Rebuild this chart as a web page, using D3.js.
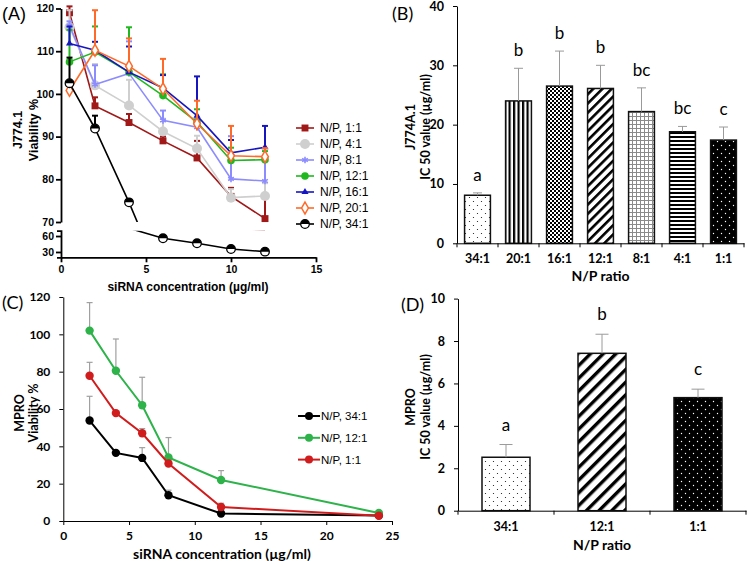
<!DOCTYPE html>
<html>
<head>
<meta charset="utf-8">
<script src="https://cdn.jsdelivr.net/npm/d3@7"></script>
<style>
body { margin: 0; background: #fff; }
svg { display: block; }
</style>
</head>
<body>
<div id="fig"></div>
<script>
// ---- panel A : J774.1 viability vs siRNA concentration ----
var concA = [0.5, 2, 4, 6, 8, 10, 12];
var np1_1A  = [119, 97.2, 93.3, 89, 85, 76, 70.8];
var np4_1A  = [115.6, 102, 97.3, 91.2, 87.2, 75.7, 76.1];
var np8_1A  = [116, 102.2, 104.8, 93.8, 92.2, 80.1, 79.6];
var np12_1A = [107.5, 109.8, 105.1, 99.6, 93.4, 84.4, 84.6];
var np16_1A = [111.8, 110.2, 105.1, 101.4, 94.9, 86.2, 87.5];
var np20_1A = [100.8, 110.2, 106.5, 101.2, 93, 85.5, 85.3];
var np34_1A = [102.5, 91.9, 74.6, 55.7, 46.3, 35.6, 30.6];
var err1_1A  = [1.5, 2, 2, 1, 4, 2, 5];
var err4_1A  = [4, 5, 6, 3, 3, 2, 3];
var err8_1A  = [1, 4.5, 7.5, 2.3, 2, 10, 5];
var err12_1A = [7.5, 6, 10.5, 5, 3, 3, 2];
var err16_1A = [4, 2, 6, 3, 9.2, 3, 5];
var err20_1A = [0, 9.4, 6.5, 7, 5.4, 7, 2];
var err34_1A = [6, 3, 0, 0, 0, 0, 0];
var namesA = ["N/P, 1:1", "N/P, 4:1", "N/P, 8:1", "N/P, 12:1", "N/P, 16:1", "N/P, 20:1", "N/P, 34:1"];
var ticksAUp = [70, 80, 90, 100, 110, 120];
var ticksALow = [30, 60];
var ticksAX = [0, 5, 10, 15];

// ---- panel B : J774A.1 IC50 ----
var ratiosB = ["34:1", "20:1", "16:1", "12:1", "8:1", "4:1", "1:1"];
var ic50B = [8.1, 24, 26.5, 26.1, 22.2, 18.8, 17.4];
var errB = [0.4, 5.5, 5.9, 3.9, 4, 0.9, 2.2];
var lettersB = ["a", "b", "b", "b", "bc", "bc", "c"];
var ticksB = [0, 10, 20, 30, 40];

// ---- panel C : MPRO viability ----
var concC = [2, 4, 6, 8, 12, 24];
var np34_1C = [53.8, 36.5, 33.8, 13.8, 4, 3];
var np12_1C = [102, 80.5, 62, 34, 22, 4.3];
var np1_1C  = [77.8, 57.8, 47, 30.8, 7.5, 2.8];
var err34_1C = [13, 0, 5.5, 2.7, 0, 0];
var err12_1C = [15, 17, 15, 10.7, 5, 0];
var err1_1C  = [7.2, 0, 2.5, 0, 2, 0];
var namesC = ["N/P, 34:1", "N/P, 12:1", "N/P, 1:1"];
var ticksCX = [0, 5, 10, 15, 20, 25];
var ticksCY = [0, 20, 40, 60, 80, 100, 120];

// ---- panel D : MPRO IC50 ----
var ratiosD = ["34:1", "12:1", "1:1"];
var ic50D = [2.52, 7.42, 5.33];
var errD = [0.6, 0.9, 0.4];
var lettersD = ["a", "b", "c"];
var ticksD = [0, 2, 4, 6, 8, 10];

var svg = d3.select("#fig")
    .append("svg")
    .attr("width", 747)
    .attr("height", 561);

var defs = svg.append("defs");

// fill patterns for the bars
function pattern(id, w, h, draw, transform) {
    var p = defs.append("pattern")
        .attr("id", id)
        .attr("patternUnits", "userSpaceOnUse")
        .attr("width", w)
        .attr("height", h);
    if (transform) p.attr("patternTransform", transform);
    draw(p);
}
pattern("dotsW", 8, 8, function(p) {
    p.append("rect").attr("width", 8).attr("height", 8).attr("fill", "#fff");
    p.append("circle").attr("cx", 1.5).attr("cy", 1.5).attr("r", 0.6).attr("fill", "#111");
    p.append("circle").attr("cx", 5.5).attr("cy", 5.5).attr("r", 0.6).attr("fill", "#111");
});
pattern("vStripes", 4.5, 4, function(p) {
    p.append("rect").attr("width", 4.5).attr("height", 4).attr("fill", "#fff");
    p.append("rect").attr("width", 2.2).attr("height", 4).attr("fill", "#000");
});
pattern("checker", 4, 4, function(p) {
    p.append("rect").attr("width", 4).attr("height", 4).attr("fill", "#fff");
    p.append("rect").attr("width", 2).attr("height", 2).attr("fill", "#000");
    p.append("rect").attr("x", 2).attr("y", 2).attr("width", 2).attr("height", 2).attr("fill", "#000");
});
pattern("diagB", 6.5, 6.5, function(p) {
    p.append("rect").attr("width", 6.5).attr("height", 6.5).attr("fill", "#fff");
    p.append("rect").attr("width", 2.6).attr("height", 6.5).attr("fill", "#000");
}, "rotate(45)");
pattern("diagD", 9, 9, function(p) {
    p.append("rect").attr("width", 9).attr("height", 9).attr("fill", "#fff");
    p.append("rect").attr("width", 3.4).attr("height", 9).attr("fill", "#000");
}, "rotate(45)");
pattern("gridG", 4, 4, function(p) {
    p.append("rect").attr("width", 4).attr("height", 4).attr("fill", "#fff");
    p.append("path").attr("d", "M0,0.5H4M0.5,0V4").attr("stroke", "#8a8a8a").attr("stroke-width", 1);
});
pattern("hStripes", 4, 4, function(p) {
    p.append("rect").attr("width", 4).attr("height", 4).attr("fill", "#fff");
    p.append("rect").attr("width", 4).attr("height", 2).attr("fill", "#000");
});
pattern("dotsB", 8, 8, function(p) {
    p.append("rect").attr("width", 8).attr("height", 8).attr("fill", "#000");
    p.append("circle").attr("cx", 1.5).attr("cy", 1.5).attr("r", 0.7).attr("fill", "#fff");
    p.append("circle").attr("cx", 5.5).attr("cy", 5.5).attr("r", 0.7).attr("fill", "#fff");
});

var fillsB = ["url(#dotsW)", "url(#vStripes)", "url(#checker)", "url(#diagB)", "url(#gridG)", "url(#hStripes)", "url(#dotsB)"];
var fillsD = ["url(#dotsW)", "url(#diagD)", "url(#dotsB)"];

function panelLabel(txt, x, y, font) {
    svg.append("text").attr("x", x).attr("y", y)
        .attr("font-family", font).attr("font-size", 18)
        .text(txt);
}

function yLabel(lines, xs, cy, font, size) {
    lines.forEach(function(t, i) {
        svg.append("text")
            .attr("transform", "translate(" + xs[i] + "," + cy + ") rotate(-90)")
            .attr("text-anchor", "middle")
            .attr("dominant-baseline", "central")
            .attr("font-family", font)
            .attr("font-weight", "bold")
            .attr("font-size", size)
            .text(t);
    });
}

// =================== panel A ===================
var xA = d3.scaleLinear().domain([0, 15]).range([61, 316]);
var yAUp = d3.scaleLinear().domain([70, 120]).range([222, 8.5]);
var yALow = d3.scaleLinear().domain([20, 70]).range([257.3, 230.7]);
function yA(v) { return v >= 70 ? yAUp(v) : yALow(v); }

defs.append("clipPath").attr("id", "clipUp")
    .append("rect").attr("x", 0).attr("y", 0).attr("width", 340).attr("height", 222);
defs.append("clipPath").attr("id", "clipLow")
    .append("rect").attr("x", 0).attr("y", 230.7).attr("width", 340).attr("height", 26.6);

var seriesA = [
    {name: namesA[0], v: np1_1A,  e: err1_1A,  color: "#a01818", shape: "square"},
    {name: namesA[1], v: np4_1A,  e: err4_1A,  color: "#cfcfcf", shape: "circleBig"},
    {name: namesA[2], v: np8_1A,  e: err8_1A,  color: "#8c8cff", shape: "cross"},
    {name: namesA[3], v: np12_1A, e: err12_1A, color: "#1fb81f", shape: "circle"},
    {name: namesA[4], v: np16_1A, e: err16_1A, color: "#1616c0", shape: "triangle"},
    {name: namesA[5], v: np20_1A, e: err20_1A, color: "#ff6a28", shape: "diamond"},
    {name: namesA[6], v: np34_1A, e: err34_1A, color: "#000000", shape: "half"}
];

function drawMarker(g, shape, color, x, y) {
    if (shape === "square") {
        g.append("path").attr("d", d3.symbol(d3.symbolSquare, 48)())
            .attr("transform", "translate(" + x + "," + y + ")").attr("fill", color);
    } else if (shape === "circleBig") {
        g.append("circle").attr("cx", x).attr("cy", y).attr("r", 5).attr("fill", color);
    } else if (shape === "circle") {
        g.append("circle").attr("cx", x).attr("cy", y).attr("r", 3.8).attr("fill", color);
    } else if (shape === "cross") {
        g.append("path").attr("d", d3.symbol(d3.symbolAsterisk, 30)())
            .attr("transform", "translate(" + x + "," + y + ")")
            .attr("fill", "none").attr("stroke", color).attr("stroke-width", 1.6);
    } else if (shape === "triangle") {
        g.append("path").attr("d", d3.symbol(d3.symbolTriangle, 22)())
            .attr("transform", "translate(" + x + "," + y + ")").attr("fill", color);
    } else if (shape === "diamond") {
        g.append("path").attr("d", d3.symbol(d3.symbolDiamond, 40)())
            .attr("transform", "translate(" + x + "," + y + ")")
            .attr("fill", "#fff").attr("stroke", color).attr("stroke-width", 1.5);
    } else if (shape === "half") {
        g.append("circle").attr("cx", x).attr("cy", y).attr("r", 4.3)
            .attr("fill", "#fff").attr("stroke", color).attr("stroke-width", 1.3);
        g.append("path")
            .attr("d", d3.arc()({innerRadius: 0, outerRadius: 4.3, startAngle: -Math.PI / 2, endAngle: Math.PI / 2}))
            .attr("transform", "translate(" + x + "," + y + ")").attr("fill", color);
    }
}

var plotA = svg.append("g");
seriesA.forEach(function(s) {
    var pts = concA.map(function(c, i) { return {x: c, v: s.v[i], e: s.e[i]}; });
    [["clipUp", yAUp], ["clipLow", yALow]].forEach(function(seg) {
        plotA.append("path")
            .attr("clip-path", "url(#" + seg[0] + ")")
            .attr("d", d3.line().x(function(d) { return xA(d.x); }).y(function(d) { return seg[1](d.v); })(pts))
            .attr("fill", "none").attr("stroke", s.color).attr("stroke-width", 1.6);
    });
    var eg = plotA.append("g").attr("stroke", s.color).attr("stroke-width", 2);
    pts.forEach(function(d) {
        if (d.e <= 0) return;
        var x = xA(d.x), y0 = yA(d.v), y1 = yA(d.v + d.e);
        eg.append("line").attr("x1", x).attr("x2", x).attr("y1", y0).attr("y2", y1);
        eg.append("line").attr("x1", x - 3).attr("x2", x + 3).attr("y1", y1).attr("y2", y1);
    });
    pts.forEach(function(d) { drawMarker(plotA, s.shape, s.color, xA(d.x), yA(d.v)); });
});

function styleAxisA(g) {
    g.selectAll("path, line").attr("stroke", "#000").attr("stroke-width", 1.8);
    g.selectAll("text").attr("font-family", "Liberation Sans, Arial").attr("font-weight", "bold").attr("font-size", 10.5).attr("fill", "#000");
}
svg.append("g").attr("transform", "translate(61,0)")
    .call(d3.axisLeft(yAUp).tickValues(ticksAUp).tickSize(5).tickSizeOuter(0).tickPadding(2))
    .call(styleAxisA);
svg.append("g").attr("transform", "translate(61,0)")
    .call(d3.axisLeft(yALow).tickValues(ticksALow).tickSize(5).tickSizeOuter(4).tickPadding(2))
    .call(styleAxisA);
svg.append("g").attr("transform", "translate(0,257.3)")
    .call(d3.axisBottom(xA).tickValues(ticksAX).tickSize(5).tickSizeOuter(0).tickPadding(3))
    .call(styleAxisA);

svg.append("text").attr("x", 188).attr("y", 291).attr("text-anchor", "middle")
    .attr("font-family", "Liberation Sans, Arial").attr("font-weight", "bold").attr("font-size", 12)
    .text("siRNA concentration (\u00b5g/ml)");
yLabel(["J774.1", "Viability %"], [18, 34], 130, "Liberation Sans, Arial", 12.5);
panelLabel("(A)", 2, 20, "Liberation Sans, Arial");

// legend A
seriesA.forEach(function(s, i) {
    var y = 128 + i * 16;
    svg.append("line").attr("x1", 296).attr("x2", 314).attr("y1", y).attr("y2", y)
        .attr("stroke", s.color).attr("stroke-width", 1.6);
    drawMarker(svg, s.shape, s.color, 305, y);
    svg.append("text").attr("x", 320).attr("y", y).attr("dominant-baseline", "central")
        .attr("font-family", "Liberation Sans, Arial").attr("font-size", 12).text(s.name);
});

// =================== bar panels B & D ===================
function barPanel(cfg) {
    var x = d3.scaleBand().domain(cfg.cats).range(cfg.xr)
        .paddingInner(cfg.pad).paddingOuter(cfg.pad / 2);
    var y = d3.scaleLinear().domain(cfg.yd).range(cfg.yr);
    var g = svg.append("g");

    g.selectAll(".bar")
        .data(cfg.vals)
        .enter()
        .append("rect")
        .attr("class", "bar")
        .attr("x", function(d, i) { return x(cfg.cats[i]); })
        .attr("width", x.bandwidth())
        .attr("y", function(d) { return y(d); })
        .attr("height", function(d) { return y(0) - y(d); })
        .attr("fill", function(d, i) { return cfg.fills[i]; })
        .attr("stroke", "#111")
        .attr("stroke-width", 1.5);

    cfg.vals.forEach(function(v, i) {
        var cx = x(cfg.cats[i]) + x.bandwidth() / 2;
        var top = y(v + cfg.errs[i]);
        g.append("line").attr("x1", cx).attr("x2", cx).attr("y1", y(v)).attr("y2", top)
            .attr("stroke", "#9a9a9a").attr("stroke-width", 1);
        g.append("line").attr("x1", cx - cfg.cap).attr("x2", cx + cfg.cap).attr("y1", top).attr("y2", top)
            .attr("stroke", "#9a9a9a").attr("stroke-width", 1);
        g.append("text").attr("x", cx).attr("y", top - cfg.letterGap)
            .attr("text-anchor", "middle")
            .attr("font-family", "Lato, Open Sans").attr("font-size", 17)
            .text(cfg.letters[i]);
    });

    var ya = svg.append("g").attr("transform", "translate(" + cfg.xr[0] + ",0)")
        .call(d3.axisLeft(y).tickValues(cfg.ticks).tickSize(4).tickSizeOuter(0).tickPadding(9));
    var xa = svg.append("g").attr("transform", "translate(0," + y(0) + ")")
        .call(d3.axisBottom(x).tickSize(0).tickPadding(11));
    // boundary ticks between categories
    d3.range(cfg.cats.length + 1).forEach(function(i) {
        var bx = cfg.xr[0] + i * x.step();
        xa.append("line").attr("x1", bx).attr("x2", bx).attr("y1", 0).attr("y2", 4);
    });
    [ya, xa].forEach(function(a) {
        a.selectAll("path, line").attr("stroke", "#000").attr("stroke-width", 1);
        a.selectAll("text").attr("font-family", "Lato, Open Sans").attr("font-weight", "bold")
            .attr("font-size", 12.5).attr("fill", "#000");
    });
    svg.append("text").attr("x", (cfg.xr[0] + cfg.xr[1]) / 2).attr("y", y(0) + cfg.xlabGap)
        .attr("text-anchor", "middle")
        .attr("font-family", "Lato, Open Sans").attr("font-weight", "bold").attr("font-size", 14)
        .text("N/P ratio");
}

barPanel({
    cats: ratiosB, vals: ic50B, errs: errB, letters: lettersB, fills: fillsB,
    xr: [457, 744], yr: [243.3, 6], yd: [0, 40], ticks: ticksB, pad: 0.37,
    cap: 4.5, letterGap: 12, xlabGap: 38
});
yLabel(["J774A.1", "IC 50 value (\u00b5g/ml)"], [410, 425], 127, "Lato, Open Sans", 12.5);
panelLabel("(B)", 392, 20, "Lato, Open Sans");

barPanel({
    cats: ratiosD, vals: ic50D, errs: errD, letters: lettersD, fills: fillsD,
    xr: [458, 746], yr: [510.7, 298.6], yd: [0, 10], ticks: ticksD, pad: 0.5,
    cap: 6.5, letterGap: 14, xlabGap: 39
});
yLabel(["MPRO", "IC 50 value (\u00b5g/ml)"], [410, 425], 407, "Lato, Open Sans", 12.5);
panelLabel("(D)", 401, 311, "Lato, Open Sans");

// =================== panel C ===================
var xC = d3.scaleLinear().domain([0, 25]).range([63.3, 392]);
var yC = d3.scaleLinear().domain([0, 120]).range([521, 297]);
var seriesC = [
    {name: namesC[0], v: np34_1C, e: err34_1C, color: "#000000"},
    {name: namesC[1], v: np12_1C, e: err12_1C, color: "#2db34a"},
    {name: namesC[2], v: np1_1C,  e: err1_1C,  color: "#d01c1c"}
];
var plotC = svg.append("g");
seriesC.forEach(function(s) {
    concC.forEach(function(c, i) {
        if (s.e[i] <= 0) return;
        var x = xC(c), top = yC(s.v[i] + s.e[i]);
        plotC.append("line").attr("x1", x).attr("x2", x).attr("y1", yC(s.v[i])).attr("y2", top)
            .attr("stroke", "#a0a0a0").attr("stroke-width", 1.2);
        plotC.append("line").attr("x1", x - 3).attr("x2", x + 3).attr("y1", top).attr("y2", top)
            .attr("stroke", "#a0a0a0").attr("stroke-width", 1.2);
    });
});
seriesC.forEach(function(s) {
    plotC.append("path")
        .attr("d", d3.line().x(function(d, i) { return xC(concC[i]); }).y(function(d) { return yC(d); })(s.v))
        .attr("fill", "none").attr("stroke", s.color).attr("stroke-width", 2);
    plotC.selectAll(null)
        .data(s.v)
        .enter()
        .append("circle")
        .attr("cx", function(d, i) { return xC(concC[i]); })
        .attr("cy", function(d) { return yC(d); })
        .attr("r", 4.2)
        .attr("fill", s.color);
});
var yaC = svg.append("g").attr("transform", "translate(63.3,0)")
    .call(d3.axisLeft(yC).tickValues(ticksCY).tickSize(4).tickSizeOuter(0).tickPadding(9));
var xaC = svg.append("g").attr("transform", "translate(0,521)")
    .call(d3.axisBottom(xC).tickValues(ticksCX).tickSize(4).tickSizeOuter(0).tickPadding(6));
[yaC, xaC].forEach(function(a) {
    a.selectAll("path, line").attr("stroke", "#000").attr("stroke-width", 1);
    a.selectAll("text").attr("font-family", "Lato, Open Sans").attr("font-weight", "bold")
        .attr("font-size", 12).attr("fill", "#000");
});
svg.append("text").attr("x", 222).attr("y", 559).attr("text-anchor", "middle")
    .attr("font-family", "Lato, Open Sans").attr("font-weight", "bold").attr("font-size", 14)
    .text("siRNA concentration (\u00b5g/ml)");
yLabel(["MPRO", "Viability %"], [19, 33], 413, "Lato, Open Sans", 12.5);
panelLabel("(C)", 2, 309, "Lato, Open Sans");

seriesC.forEach(function(s, i) {
    var y = 416 + i * 21.8;
    svg.append("line").attr("x1", 298).attr("x2", 320).attr("y1", y).attr("y2", y)
        .attr("stroke", s.color).attr("stroke-width", 2);
    svg.append("circle").attr("cx", 309).attr("cy", y).attr("r", 4).attr("fill", s.color);
    svg.append("text").attr("x", 321).attr("y", y).attr("dominant-baseline", "central")
        .attr("font-family", "Liberation Sans, Arial").attr("font-size", 11.5).text(s.name);
});
</script>
</body>
</html>
